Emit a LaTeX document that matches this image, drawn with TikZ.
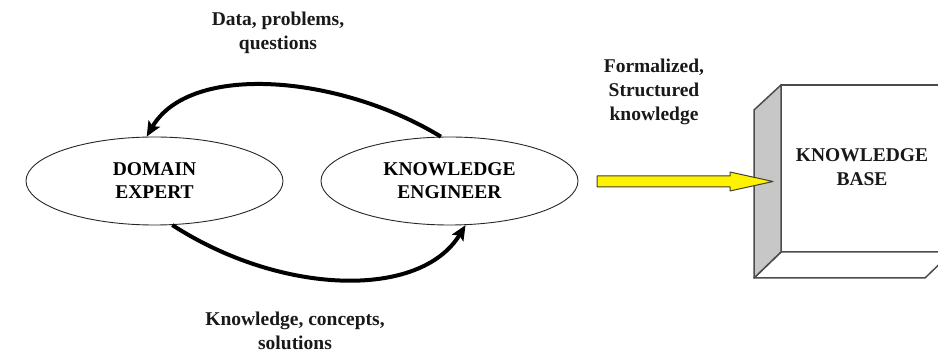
\documentclass[tikz,border=0pt]{standalone}
\usepackage{fontspec}
\setmainfont{Liberation Serif}
\usetikzlibrary{shapes.geometric,arrows.meta}
\begin{document}
\begin{tikzpicture}[x=1pt,y=-1pt,
  lbl/.style={font=\fontsize{19.5}{24}\selectfont\bfseries, align=center, inner sep=0pt, text=black!90},
  oval/.style={ellipse, draw=black!85, line width=0.9pt, minimum width=257pt, minimum height=88pt, inner sep=0pt, font=\fontsize{19.5}{23}\selectfont\bfseries, align=center},
  flow/.style={line width=4pt, -{Stealth[length=15pt,width=13pt,inset=3pt]}},
  boxline/.style={draw=black!70, line width=1.5pt, line join=round}
]
\useasboundingbox (0,0) rectangle (938,355);
\clip (0,0) rectangle (938,355);

\node[oval] (de) at (154.5,181) {DOMAIN\\EXPERT};
\node[oval] (ke) at (449.5,181) {KNOWLEDGE\\ENGINEER};

\node[lbl] (t1) at (278,33) {Data, problems,\\questions};
\node[lbl] (t2) at (295,331) {Knowledge, concepts,\\solutions};
\node[lbl] (t3) at (654,92) {Formalized,\\Structured\\knowledge};

\draw[flow] (ke.101) .. controls (340,75) and (190,62) .. (de.100);
\draw[flow] (de.-68) .. controls (280,295) and (420,300) .. (ke.-70);

% knowledge base box
\filldraw[boxline, fill=white] (781,85) -- (960,85) -- (960,252) -- (781,252) -- cycle;
\filldraw[boxline, fill=white] (754,278) -- (781,252) -- (952,252) -- (925,278) -- cycle;
\filldraw[boxline, fill=black!22] (754,110) -- (781,85) -- (781,252) -- (754,278) -- cycle;
\node[lbl] (kb) at (862,167) {KNOWLEDGE\\BASE};

% yellow block arrow
\filldraw[draw=black!70!olive, line width=1pt, fill=yellow, line join=round]
  (597,176) -- (730,176) -- (730,172) -- (773,181.5) -- (730,191) -- (730,187) -- (597,187) -- cycle;
\end{tikzpicture}
\end{document}
